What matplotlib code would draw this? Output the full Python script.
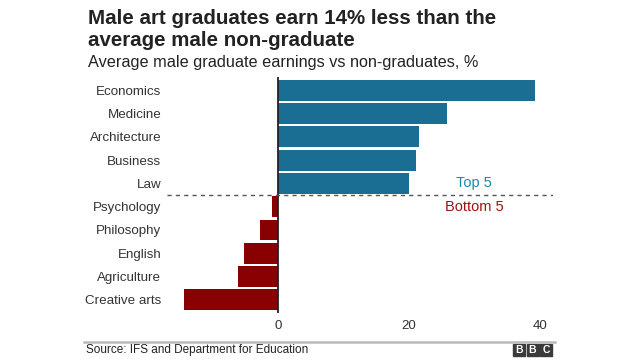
import matplotlib.pyplot as plt
from matplotlib.patches import Rectangle

# Data
subjects = ['Economics', 'Medicine', 'Architecture', 'Business', 'Law',
            'Psychology', 'Philosophy', 'English', 'Agriculture', 'Creative arts']
values = [39.2, 25.8, 21.6, 21.1, 20.1, -0.9, -2.7, -5.1, -6.0, -14.3]
xticks = [0, 20, 40]

blue = '#1a6e93'
red = '#880000'

plt.rcParams['font.family'] = ['Liberation Sans', 'DejaVu Sans']

fig = plt.figure(figsize=(6.4, 3.6), dpi=100)
W, H = 640, 360

# axes placed in pixel terms
left, right, top, bottom = 166.7, 553, 76.7, 313
ax = fig.add_axes([left / W, 1 - bottom / H, (right - left) / W, (bottom - top) / H])

colors = [blue if v > 0 else red for v in values]
ypos = list(range(len(subjects)))
ax.barh(ypos, values, height=0.9, color=colors, edgecolor='none')
ax.set_ylim(9.57, -0.59)
ax.set_xlim(-16.95, 42.0)
ax.axvline(0, color='#222222', lw=1.3)
ax.axhline(4.5, color='#555555', lw=1, ls=(0, (3, 3)))

ax.set_yticks(ypos)
ax.set_yticklabels(subjects, fontsize=9.6, color='#333333')
ax.set_xticks(xticks)
ax.set_xticklabels([str(t) for t in xticks], fontsize=9.5, color='#333333')
ax.tick_params(axis='both', length=0)
ax.tick_params(axis='x', pad=5)
ax.tick_params(axis='y', pad=4)
for s in ax.spines.values():
    s.set_visible(False)

ax.text(30, 4.0, 'Top 5', color='#1f86b0', fontsize=10.5, ha='center', va='center')
ax.text(30, 5.0, 'Bottom 5', color='#a01010', fontsize=10.5, ha='center', va='center')

# titles
fig.text(88 / W, 1 - 18 / H, 'Male art graduates earn 14% less than the',
         fontsize=14.8, fontweight='bold', color='#222222', va='center')
fig.text(88 / W, 1 - 40 / H, 'average male non-graduate',
         fontsize=14.8, fontweight='bold', color='#222222', va='center')
fig.text(88 / W, 1 - 63 / H, 'Average male graduate earnings vs non-graduates, %',
         fontsize=11.7, color='#222222', va='center')

# footer
fig.add_artist(plt.Line2D([84 / W, 555 / W], [1 - 341.7 / H] * 2, color='#bbbbbb', lw=1.8))
fig.text(86 / W, 1 - 350 / H, 'Source: IFS and Department for Education',
         fontsize=8.5, color='#222222', va='center')
for i, ch in enumerate('BBC'):
    x0 = 513 + i * 13.5
    fig.add_artist(Rectangle((x0 / W, 1 - 356 / H), 12 / W, 12 / H,
                             transform=fig.transFigure, color='#3a3a3a'))
    fig.text((x0 + 6) / W, 1 - 350 / H, ch, color='white', fontsize=7.5,
             fontweight='bold', ha='center', va='center')

fig.savefig('out.png', dpi=100)
